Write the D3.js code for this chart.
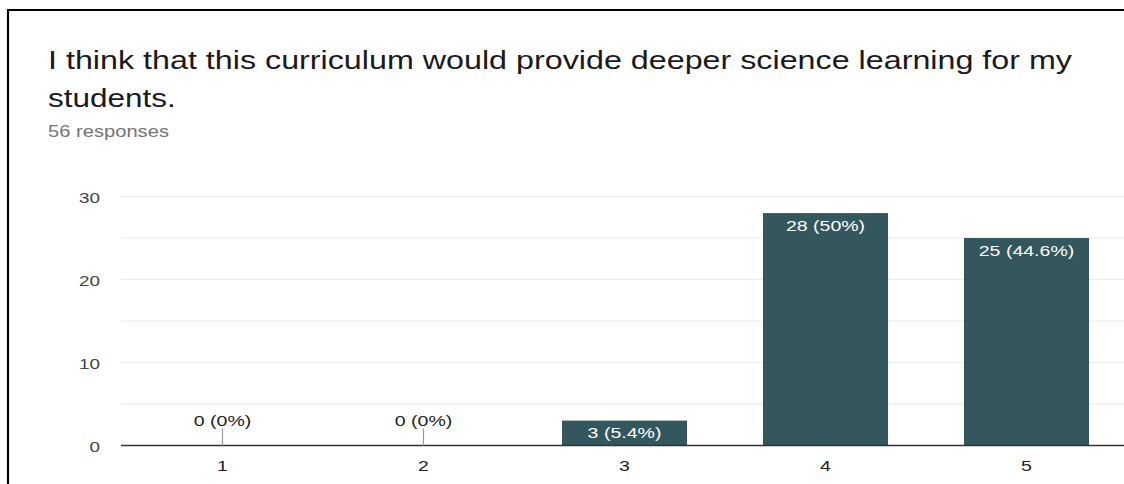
<!DOCTYPE html>
<html>
<head>
<meta charset="utf-8">
<script src="https://cdn.jsdelivr.net/npm/d3@7"></script>
<style>
  html, body { margin: 0; padding: 0; background: #fff; }
  svg { display: block; }
</style>
</head>
<body>
<script>
// Survey question and response counts per rating
const titleLines = [
  "I think that this curriculum would provide deeper science learning for my",
  "students."
];
const subtitle = "56 responses";
const categories = ["1", "2", "3", "4", "5"];
const counts = [0, 0, 3, 28, 25];
const percentLabels = ["0%", "0%", "5.4%", "50%", "44.6%"];
const yTicks = [0, 10, 20, 30];
const yGridMinor = [5, 15, 25];

const W = 1124, H = 484;
const margin = { left: 122, right: -3, top: 196.5, bottom: 38.5 };
const SX = 1.26;            // horizontal stretch applied to all lettering
const FONT = "'Liberation Sans', Arial, Helvetica, sans-serif";

const svg = d3.select("body").append("svg")
  .attr("width", W).attr("height", H);

svg.append("rect").attr("width", W).attr("height", H).attr("fill", "#fff");

// draws a piece of text at (x, y) stretched horizontally by SX
function label(parent, x, y, str, size, fill, anchor) {
  return parent.append("text")
    .attr("transform", `translate(${x},${y}) scale(${SX},1)`)
    .attr("font-family", FONT)
    .attr("font-size", size)
    .attr("fill", fill)
    .attr("text-anchor", anchor || "start")
    .text(str);
}

// frame (top and left edges)
svg.append("path")
  .attr("d", `M8,${H} V10 H${W}`)
  .attr("fill", "none").attr("stroke", "#000").attr("stroke-width", 2.2);

// heading
titleLines.forEach((t, i) => {
  const el = label(svg, 48, 69 + i * 37.5, t, 25, "#1a1a1a");
  if (i === 0) el.attr("textLength", 1024 / SX).attr("lengthAdjust", "spacingAndGlyphs");
});
label(svg, 48, 137, subtitle, 16, "#757575");

const x = d3.scaleBand()
  .domain(categories)
  .range([margin.left, W - margin.right])
  .paddingInner(0.378).paddingOuter(0.189);

const y = d3.scaleLinear()
  .domain([0, 30])
  .range([H - margin.bottom, margin.top]);

const plotLeft = 121;

// gridlines
svg.append("g").selectAll("line")
  .data(yTicks.filter(d => d > 0).concat(yGridMinor))
  .join("line")
  .attr("x1", plotLeft).attr("x2", W)
  .attr("y1", d => y(d)).attr("y2", d => y(d))
  .attr("stroke", "#ececec").attr("stroke-width", 1.2);

// y axis labels
const yAxis = svg.append("g")
  .attr("transform", `translate(${plotLeft},0)`)
  .call(d3.axisLeft(y).tickValues(yTicks).tickSize(0).tickPadding(0));
yAxis.select(".domain").remove();
yAxis.selectAll(".tick text")
  .attr("x", null).attr("dy", null)
  .attr("transform", `translate(-21,5.5) scale(${SX},1)`)
  .attr("font-family", FONT)
  .attr("font-size", 15).attr("fill", "#444");

// x axis labels
const xAxis = svg.append("g")
  .attr("transform", `translate(0,${y(0)})`)
  .call(d3.axisBottom(x).tickSize(0).tickPadding(0));
xAxis.select(".domain").remove();
xAxis.selectAll(".tick text")
  .attr("y", null).attr("dy", null)
  .attr("transform", `translate(0,25) scale(${SX},1)`)
  .attr("font-family", FONT)
  .attr("font-size", 15.5).attr("fill", "#222");

// bars
svg.append("g").selectAll("rect")
  .data(categories)
  .join("rect")
  .attr("x", d => x(d))
  .attr("width", x.bandwidth())
  .attr("y", (d, i) => y(counts[i]))
  .attr("height", (d, i) => y(0) - y(counts[i]))
  .attr("fill", "#33575c");

// baseline
svg.append("line")
  .attr("x1", plotLeft).attr("x2", W)
  .attr("y1", y(0)).attr("y2", y(0))
  .attr("stroke", "#333").attr("stroke-width", 1.5);

// value labels
const labels = svg.append("g");
categories.forEach((c, i) => {
  const cx = x(c) + x.bandwidth() / 2;
  const txt = `${counts[i]} (${percentLabels[i]})`;
  if (counts[i] === 0) {
    labels.append("line")
      .attr("x1", cx).attr("x2", cx)
      .attr("y1", y(0) - 17).attr("y2", y(0))
      .attr("stroke", "#999").attr("stroke-width", 1.2);
    label(labels, cx, y(0) - 20, txt, 15.5, "#222", "middle");
  } else {
    label(labels, cx, y(counts[i]) + 17.5, txt, 15.5, "#fff", "middle");
  }
});
</script>
</body>
</html>
